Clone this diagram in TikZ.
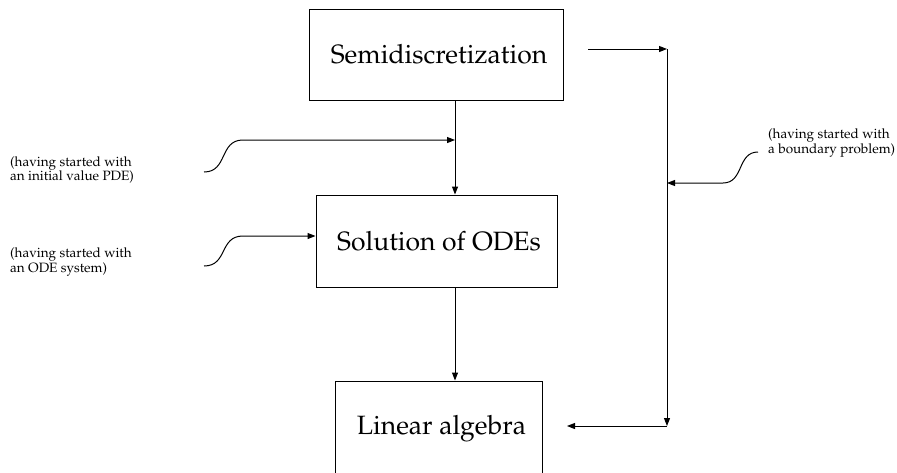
\documentclass[tikz,border=0pt]{standalone}
\usepackage[T1]{fontenc}
\usepackage{mathpazo}
\usetikzlibrary{arrows.meta}
\begin{document}
\begin{tikzpicture}[x=1pt,y=-1pt,
  box/.style={draw, line width=1pt, font=\fontsize{26.5}{30}\selectfont, inner sep=0pt},
  note/.style={font=\fontsize{13.5}{14.5}\selectfont, align=left, inner sep=0pt, anchor=west},
  plain/.style={line width=1pt},
  arr/.style={line width=1pt, -{Triangle[length=8pt,width=6pt]}}]
\useasboundingbox (0,0) rectangle (897,472);
% boxes
\node[box, minimum width=254pt, minimum height=91pt] (semi) at (436,54.5) {\hspace*{6pt}Semidiscretization};
\node[box, minimum width=241pt, minimum height=92pt] (sol) at (436.5,241) {\hspace*{5pt}Solution of ODEs};
\node[box, minimum width=207pt, minimum height=96pt] (lin) at (438.5,429) {\hspace*{6pt}Linear algebra};
% notes
\node[note] (n1) at (10,170) {(having started with\\an initial value PDE)};
\node[note] (n2) at (10,262) {(having started with\\an ODE system)};
\node[note] (n3) at (768,143) {(having started with\\a boundary problem)};
% central spine
\coordinate (j1) at (455,140);
\draw[plain] (semi.south -| j1) -- (j1);
\draw[arr] (j1) -- (sol.north -| j1);
\draw[arr] (sol.south -| j1) -- (lin.north -| j1);
% left S-curves
\coordinate (s1) at (204,172);
\coordinate (t1) at (243,140);
\draw[arr] (s1) .. controls (228,172) and (219,140) .. (t1) -- (j1);
\coordinate (s2) at (204,266);
\coordinate (t2) at (243,236);
\draw[arr] (s2) .. controls (228,266) and (219,236) .. (t2) -- (t2 -| sol.west);
% right loop
\coordinate (r0) at (588,49);
\coordinate (r1) at (667,49);
\coordinate (r2) at (667,426);
\coordinate (r3) at (567,426);
\draw[arr] (r0) -- (r1);
\draw[arr] (r1) -- (r2);
\draw[arr] (r2) -- (r3);
% right S-curve
\coordinate (q1) at (758,152);
\coordinate (q0) at (723,183);
\draw[arr] (q1) .. controls (737,152) and (744,183) .. (q0) -- (q0 -| r1);
\end{tikzpicture}
\end{document}
